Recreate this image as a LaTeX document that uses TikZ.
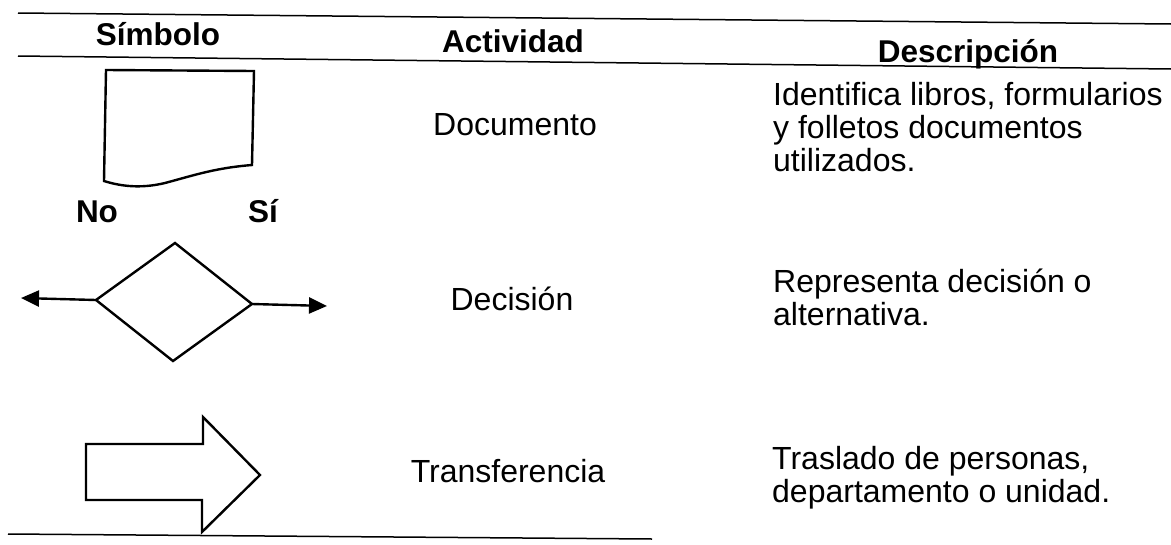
\documentclass[tikz,border=0pt]{standalone}
\usepackage{fontspec}
\setmainfont{Liberation Sans}
\usetikzlibrary{arrows.meta}
\begin{document}
\begin{tikzpicture}[x=1pt,y=-1pt,
  rule/.style={line width=1.5pt},
  shapeline/.style={line width=2.4pt,line join=miter},
  head/.style={font=\fontsize{31.5}{33}\selectfont\bfseries,inner sep=0pt,anchor=base},
  txt/.style={font=\fontsize{32}{33}\selectfont,inner sep=0pt},
  conn/.style={line width=2.4pt,-{Triangle[length=18pt,width=16pt]}}]
\useasboundingbox (0,0) rectangle (1171,544);
% rules
\coordinate (r1a) at (18,13); \coordinate (r1b) at (1171,24);
\coordinate (r2a) at (18,56); \coordinate (r2b) at (1171,69);
\coordinate (r3a) at (8,534); \coordinate (r3b) at (652,539);
\draw[rule] (r1a) -- (r1b);
\draw[rule] (r2a) -- (r2b);
\draw[rule] (r3a) -- (r3b);
% headers
\node[head] (hsim) at (158,45) {Símbolo};
\node[head] (hact) at (513,52) {Actividad};
\node[head] (hdes) at (968,62) {Descripción};
% document symbol
\draw[shapeline] (106,70) -- (254,71) -- (252,165)
  .. controls (215,168) and (195,175) .. (165,183)
  .. controls (140,189) and (120,186) .. (104,181) -- cycle;
\node[head] (no) at (97,222) {No};
\node[head] (si) at (263,222) {Sí};
% decision
\coordinate (dt) at (175,243);
\coordinate (dl) at (96,300);
\coordinate (dr) at (252,304);
\coordinate (db) at (173,361);
\draw[shapeline] (dt) -- (dr) -- (db) -- (dl) -- cycle;
\coordinate (nofree) at (21,298);
\coordinate (sifree) at (327,306);
\draw[conn] (dl) -- (nofree);
\draw[conn] (dr) -- (sifree);
% transfer arrow
\draw[shapeline] (86,444) -- (203,444) -- (203,417) -- (260,475) -- (202,532) -- (202,500) -- (86,500) -- cycle;
% activities
\node[txt,anchor=base] (adoc) at (515,135) {Documento};
\node[txt,anchor=base] (adec) at (512,310) {Decisión};
\node[txt,anchor=base] (atra) at (508,482) {Transferencia};
% descriptions
\node[txt,anchor=base west] (d1a) at (773,105) {Identifica libros, formularios};
\node[txt,anchor=base west] (d1b) at (773,138) {y folletos documentos};
\node[txt,anchor=base west] (d1c) at (773,171) {utilizados.};
\node[txt,anchor=base west] (d2a) at (773,292) {Representa decisión o};
\node[txt,anchor=base west] (d2b) at (773,325) {alternativa.};
\node[txt,anchor=base west] (d3a) at (772,469) {Traslado de personas,};
\node[txt,anchor=base west] (d3b) at (772,502) {departamento o unidad.};
\end{tikzpicture}
\end{document}
